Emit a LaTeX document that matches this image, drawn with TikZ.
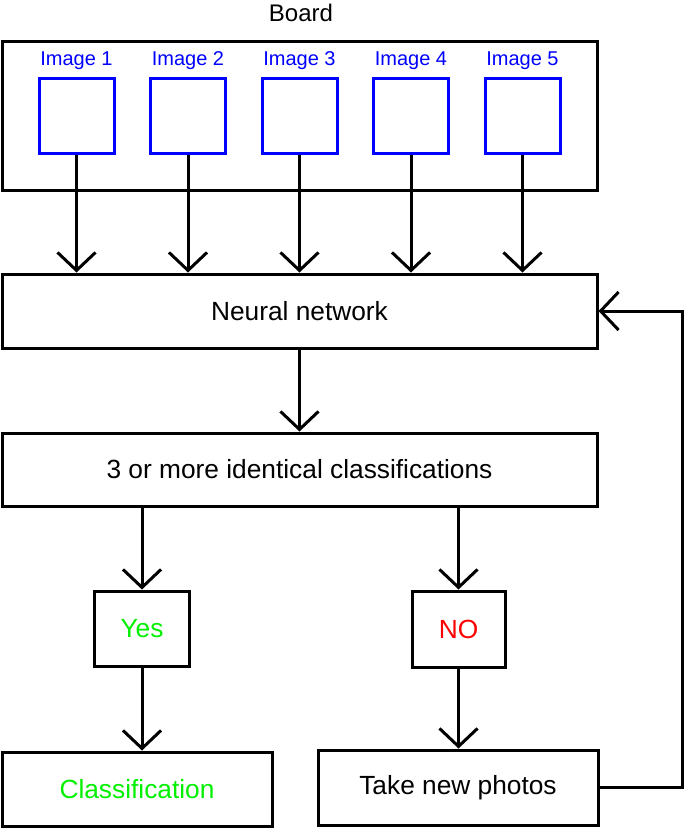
\documentclass[tikz,border=0pt]{standalone}
\usepackage{fontspec}
\setmainfont{Liberation Sans}
\usetikzlibrary{arrows.meta}
\definecolor{imgblue}{RGB}{0,0,255}
\definecolor{yesgreen}{RGB}{0,240,0}
\definecolor{nored}{RGB}{255,0,0}
\begin{document}
\begin{tikzpicture}[x=1pt,y=-1pt,
  line width=3pt,
  box/.style={draw=black, line width=3pt, inner sep=0pt, font=\fontsize{26.3}{31}\selectfont},
  imgbox/.style={draw=imgblue, line width=3pt, minimum width=75pt, minimum height=75pt, inner sep=0pt},
  imglabel/.style={text=imgblue, inner sep=0pt, font=\fontsize{20}{24}\selectfont},
  arr/.style={-{Straight Barb[length=18pt,width=38pt,line width=3pt]}, line width=3pt}
]
\useasboundingbox (0,0) rectangle (685,828);

% Board
\node[box, minimum width=595pt, minimum height=149pt] (board) at (299.5,115.5) {};
\node[inner sep=0pt, font=\fontsize{24}{28}\selectfont] (boardlbl) at (301,13) {Board};

\foreach \i/\x in {1/76.5,2/188,3/299.5,4/411,5/522.5}{
  \node[imgbox] (img\i) at (\x,115.5) {};
  \node[imglabel] (lbl\i) at (\x,61) {Image \i};
}

% Neural network
\node[box, minimum width=595pt, minimum height=74pt] (nn) at (299.5,311) {Neural network};

% Classification decision
\node[box, minimum width=595pt, minimum height=73pt] (cls) at (299.5,469.5) {3 or more identical classifications};

% Yes / NO
\node[box, minimum width=95pt, minimum height=75pt, text=yesgreen] (yes) at (142,628.5) {Yes};
\node[box, minimum width=93pt, minimum height=76pt, text=nored] (no) at (458.5,629) {NO};

% Bottom
\node[box, minimum width=270pt, minimum height=74pt, text=yesgreen] (classif) at (137,789) {Classification};
\node[box, minimum width=280pt, minimum height=75pt] (take) at (458,787.5) {Take new photos};

% Arrows
\foreach \i in {1,...,5}{
  \draw[arr] (img\i.south) -- (img\i.south |- nn.north);
}
\draw[arr] (nn.south) -- (cls.north);
\draw[arr] (yes.north |- cls.south) -- (yes.north);
\draw[arr] (no.north |- cls.south) -- (no.north);
\draw[arr] (yes.south) -- (classif.north -| yes.south);
\draw[arr] (no.south) -- (take.north -| no.south);
\coordinate (fbr) at (682,0);
\draw[arr, line join=miter] (take.east) -- (take.east -| fbr) -- (nn.east -| fbr) -- (nn.east);
\end{tikzpicture}
\end{document}
